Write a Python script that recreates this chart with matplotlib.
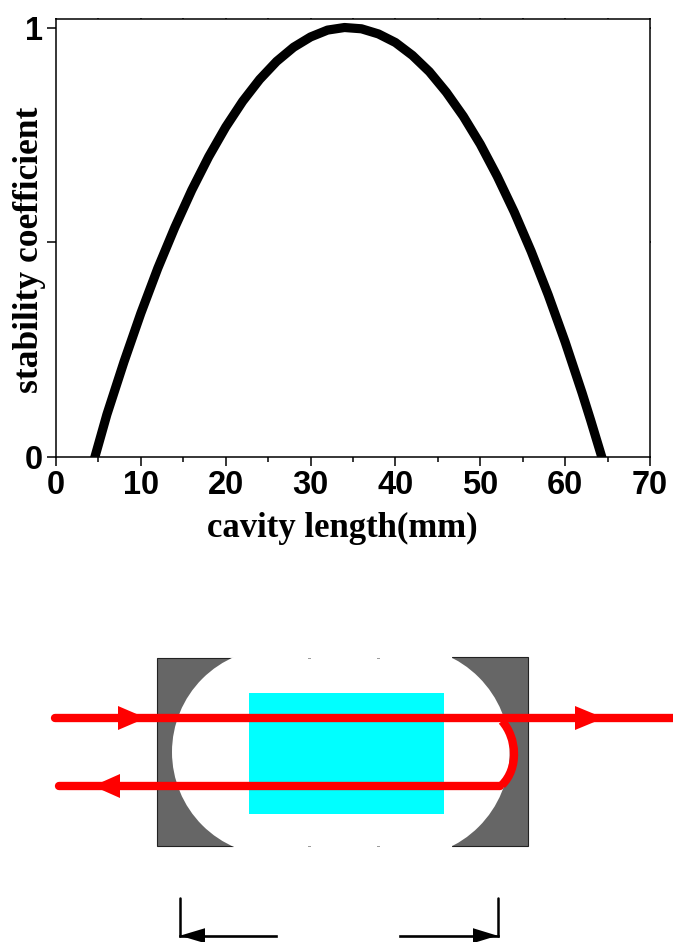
#!/usr/bin/env python3
"""Stability coefficient vs. cavity length, with a sketch of the cavity below."""

import matplotlib
matplotlib.use("Agg")
import matplotlib.pyplot as plt
from matplotlib.patches import Rectangle, Circle, Polygon, PathPatch
from matplotlib.path import Path

W, H = 673, 942

# --- Curve ---
cavity_mm = [4.6, 6, 8, 10, 12, 14, 16, 18, 20, 22, 24, 26, 28, 30, 32, 34,
             36, 38, 40, 42, 44, 46, 48, 50, 52, 54, 56, 58, 60, 62, 63, 64.3]
stability = [0.0, 0.098, 0.220, 0.334, 0.439, 0.534, 0.621, 0.699, 0.768, 0.828, 0.879, 0.921, 0.954, 0.978, 0.994, 1.0,
             0.997, 0.985, 0.965, 0.935, 0.897, 0.849, 0.793, 0.728, 0.653, 0.570, 0.478, 0.377, 0.267, 0.148, 0.085, 0.0]
x_ticks = [0, 10, 20, 30, 40, 50, 60, 70]
x_minor = [5, 15, 25, 35, 45, 55, 65]
y_ticks = [0, 0.5, 1]
y_labels = ["0", "", "1"]

# --- Sketch geometry, in picture pixels ---
MIRRORS = [(157.2, 657.5, 76, 188.5), (451.5, 657, 76, 188.5)]
BORES = [(275.7, 752, 103.7), (404, 752, 105.7)]
CRYSTAL = (249, 692.5, 195, 121.5)
BEAM_TOP = [(55, 718), (673, 718)]
BEAM_BOTTOM = [(59, 786), (500, 786)]
BEAM_TURN = [(502, 721), (517, 738), (519, 768), (502, 785)]
RED_HEADS = [(118, 146, 718), (575, 604, 718), (120, 93, 786)]
SPECKS = [308, 377]

TICK_FONT = "Liberation Sans"
LABEL_FONT = "Liberation Serif"

fig = plt.figure(figsize=(W / 100, H / 100), dpi=100)

# --- Top chart ---
ax = fig.add_axes([56 / W, 1 - 456.5 / H, 594 / W, 438 / H])
ax.plot(cavity_mm, stability, color="black", lw=6.6, solid_joinstyle="round")
ax.set_xlim(0, 70)
ax.set_ylim(0, 1.021)
ax.set_xticks(x_ticks)
ax.set_xticks(x_minor, minor=True)
ax.set_yticks(y_ticks)
ax.set_yticklabels(y_labels)
ax.tick_params(axis="both", which="major", length=6.5, width=1.1, pad=3, labelsize=23.5)
ax.tick_params(axis="x", which="minor", length=3.5, width=1.1)
ax.tick_params(top=True, right=True, which="both")
for lab in ax.get_xticklabels() + ax.get_yticklabels():
    lab.set_fontfamily(TICK_FONT)
    lab.set_fontweight("bold")
for s in ax.spines.values():
    s.set_linewidth(1.1)
# barely visible marks on the top/right edges
for t in ax.xaxis.get_major_ticks() + ax.xaxis.get_minor_ticks() + ax.yaxis.get_major_ticks():
    t.tick2line.set_markersize(1)

fig.text(342 / W, 1 - 528 / H, "cavity length(mm)", ha="center", va="center",
         family=LABEL_FONT, fontweight="bold", fontsize=25)
fig.text(30 / W, 1 - 250 / H, "stability coefficient", ha="center", va="center", rotation=90,
         family=LABEL_FONT, fontweight="bold", fontsize=25.5)

# --- Cavity sketch (overlay in pixel coordinates) ---
sk = fig.add_axes([0, 0, 1, 1], facecolor="none")
sk.set_xlim(0, W)
sk.set_ylim(H, 0)
sk.axis("off")

for x, y, w, h in MIRRORS:
    sk.add_patch(Rectangle((x, y), w, h, facecolor="#666666", edgecolor="#222222", lw=0.8))
for cx, cy, r in BORES:
    sk.add_patch(Circle((cx, cy), r, facecolor="white", edgecolor="none"))
sk.add_patch(Rectangle((233.5, 655), 218, 193, facecolor="white", edgecolor="none"))
for x in SPECKS:
    sk.plot([x, x + 2], [657.5, 657.5], color="#999999", lw=0.7)
    sk.plot([x, x + 2], [846, 846], color="#999999", lw=0.7)
sk.add_patch(Rectangle((CRYSTAL[0], CRYSTAL[1]), CRYSTAL[2], CRYSTAL[3], facecolor="#00FFFF", edgecolor="none"))

RED_LW = 6
for seg in (BEAM_TOP, BEAM_BOTTOM):
    sk.plot(*zip(*seg), color="#FF0000", lw=RED_LW, solid_capstyle="round")
sk.add_patch(PathPatch(Path(BEAM_TURN, [Path.MOVETO, Path.CURVE4, Path.CURVE4, Path.CURVE4]),
                       facecolor="none", edgecolor="#FF0000", lw=RED_LW))
for base, tip, y in RED_HEADS:
    sk.add_patch(Polygon([(base, y - 12), (tip, y), (base, y + 12)], closed=True,
                         facecolor="#FF0000", edgecolor="none"))

# dimension arrows
DIM_Y = 935.7
for x in (180, 497.5):
    sk.plot([x, x], [898, DIM_Y], color="black", lw=1.8, solid_capstyle="round")
sk.plot([180, 276], [DIM_Y, DIM_Y], color="black", lw=1.9)
sk.plot([400, 497.5], [DIM_Y, DIM_Y], color="black", lw=1.9)
sk.add_patch(Polygon([(205, DIM_Y - 7.5), (180, DIM_Y), (205, DIM_Y + 7.5)], facecolor="black", edgecolor="none"))
sk.add_patch(Polygon([(473, DIM_Y - 7.5), (497.5, DIM_Y), (473, DIM_Y + 7.5)], facecolor="black", edgecolor="none"))

fig.savefig("out.png", dpi=100)
